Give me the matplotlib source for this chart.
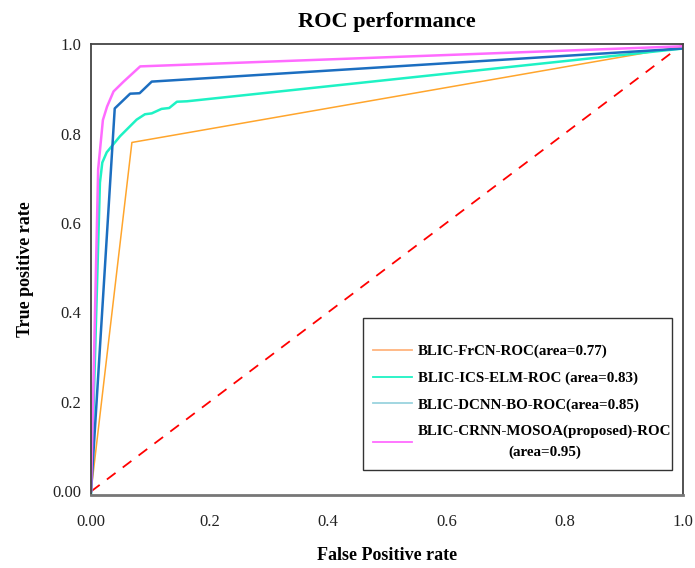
import numpy as np
import matplotlib
matplotlib.use('Agg')
import matplotlib.pyplot as plt
from matplotlib.lines import Line2D
from matplotlib.patches import Rectangle

plt.rcParams['font.family'] = ['Liberation Serif', 'DejaVu Serif']

# ROC curves (false positive rate, true positive rate)
fpr_frcn = [0.0, 0.069, 1.0]
tpr_frcn = [0.0, 0.78, 0.995]

fpr_elm = [0.0, 0.015, 0.019, 0.0265, 0.049, 0.077, 0.091, 0.1025, 0.119, 0.132, 0.145, 0.162, 1.0]
tpr_elm = [-0.01, 0.69, 0.735, 0.758, 0.794, 0.831, 0.843, 0.845, 0.855, 0.857, 0.871, 0.872, 0.99]

fpr_dcnn = [0.0, 0.04, 0.066, 0.082, 0.1025, 1.0]
tpr_dcnn = [0.0, 0.856, 0.889, 0.89, 0.916, 0.99]

fpr_crnn = [0.0, 0.012, 0.02, 0.027, 0.038, 0.055, 0.083, 1.0]
tpr_crnn = [0.0, 0.72, 0.83, 0.86, 0.894, 0.916, 0.95, 0.995]

labels = ['BLIC-FrCN-ROC(area=0.77)',
          'BLIC-ICS-ELM-ROC (area=0.83)',
          'BLIC-DCNN-BO-ROC(area=0.85)',
          'BLIC-CRNN-MOSOA(proposed)-ROC\n(area=0.95)']
colors = ['#FFA52C', '#1EF2C4', '#1C6EC0', '#FF6BFF']
legend_colors = ['#FFB47E', '#1EF2C4', '#9AD3DE', '#FF6BFF']

xticks = [0.0, 0.2, 0.4, 0.6, 0.8, 1.0]
xticklabels = ['0.00', '0.2', '0.4', '0.6', '0.8', '1.0']
yticks = [0.0, 0.2, 0.4, 0.6, 0.8, 1.0]
yticklabels = ['0.00', '0.2', '0.4', '0.6', '0.8', '1.0']

fig = plt.figure(figsize=(6.95, 5.68), dpi=100)
ax = fig.add_axes([0.131, 0.1285, 0.852, 0.794])

ax.plot([0, 1], [0, 1], color='red', linestyle=(0, (6, 5)), lw=1.3)
ax.plot(fpr_frcn, tpr_frcn, color=colors[0], lw=1.1)
ax.plot(fpr_elm, tpr_elm, color=colors[1], lw=1.8)
ax.plot(fpr_dcnn, tpr_dcnn, color=colors[2], lw=1.8)
ax.plot(fpr_crnn, tpr_crnn, color=colors[3], lw=1.8)

ax.set_xlim(0, 1)
ax.set_ylim(-0.008, 1.0)
ax.set_xticks(xticks)
ax.set_xticklabels(xticklabels)
ax.set_yticks(yticks)
ax.set_yticklabels(yticklabels)
ax.tick_params(axis='both', length=0, labelsize=12, colors='#222222')
ax.tick_params(axis='x', pad=14)
ax.tick_params(axis='y', pad=7)

for s in ax.spines.values():
    s.set_color('#444444')
    s.set_linewidth(1.3)
ax.spines['bottom'].set_color('#777777')
ax.spines['bottom'].set_linewidth(2)

ax.set_title('ROC performance', fontsize=16, fontweight='bold', pad=12)
ax.set_xlabel('False Positive rate', fontsize=13, fontweight='bold', labelpad=12)
ax.set_ylabel('True positive rate', fontsize=13, fontweight='bold', labelpad=13)

# legend box drawn separately so the padding can match
ax.add_patch(Rectangle((0.459, 0.055), 0.522, 0.337, transform=ax.transAxes,
                       facecolor='white', edgecolor='#333333', lw=1.0, zorder=4))
handles = [Line2D([0], [0], color=c, lw=1.3) for c in legend_colors]
leg = ax.legend(handles, labels, loc='upper left', bbox_to_anchor=(0.476, 0.334),
                prop={'weight': 'bold', 'size': 10.8}, frameon=False,
                handlelength=2.6, handletextpad=0.4, labelspacing=0.88,
                borderpad=0, borderaxespad=0)
leg.set_zorder(5)
for t in leg.get_texts():
    t.set_multialignment('center')
    t.set_linespacing(1.65)

plt.savefig('out.png', dpi=100)
